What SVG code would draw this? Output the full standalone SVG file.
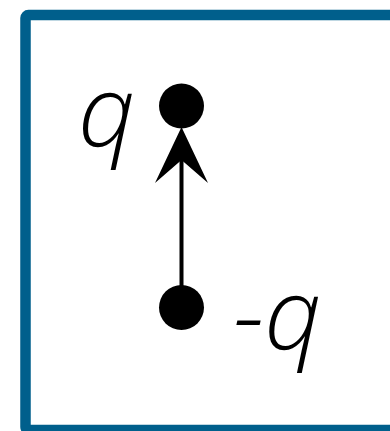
<svg xmlns="http://www.w3.org/2000/svg" width="390" height="431" viewBox="0 0 390 431">
<style>
.frame{fill:#fff;stroke:#005f8c;stroke-width:10.5}
.charge{fill:#000}
.lbl{font-family:"Open Sans","Noto Sans",sans-serif;font-style:italic;font-weight:300;font-size:100px;fill:#000}
.conn{stroke:#000;stroke-width:4;fill:none}
</style>
<rect width="390" height="431" fill="#fff"/>
<rect class="frame" x="25.5" y="15" width="400" height="415" rx="3"/>
<g id="connectors">
<line class="conn" x1="181.5" y1="307" x2="181.5" y2="160"/>
<polygon class="charge" points="181.5,127 155,183 181.5,160 208,183"/>
</g>
<g id="q-pos">
<circle class="charge" cx="181.5" cy="106" r="22.5"/>
<text class="lbl" x="78" y="147">q</text>
</g>
<g id="q-neg">
<circle class="charge" cx="181.5" cy="307.5" r="22.5"/>
<text class="lbl" x="233" y="350">-q</text>
</g>
</svg>
